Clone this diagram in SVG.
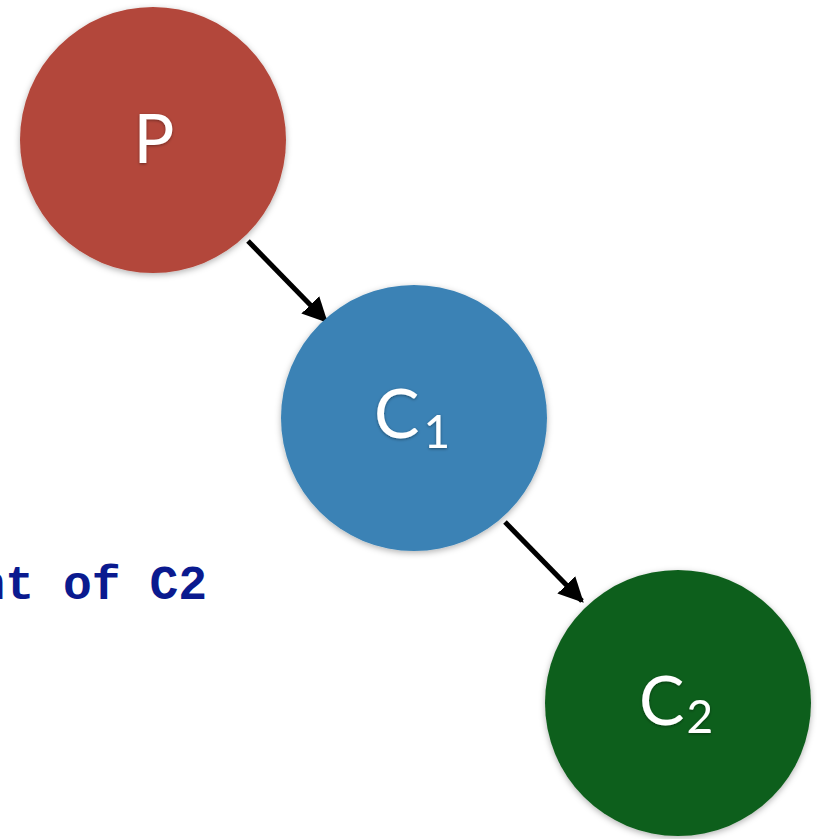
<svg xmlns="http://www.w3.org/2000/svg" width="817" height="839" viewBox="0 0 817 839">
<defs>
<style>
.lbl{font-family:Lato,"Open Sans","Liberation Sans",sans-serif;fill:#ffffff;font-size:68px;filter:url(#ts)}
.sub{font-size:46px}
.edge{stroke:#000;stroke-width:5;fill:none;marker-end:url(#ah)}
.note{font-family:"Liberation Mono","Courier New",monospace;font-weight:bold;font-size:48px;fill:#0a1a8f}
</style>
<marker id="ah" viewBox="0 0 10 10" refX="9" refY="5" markerWidth="5" markerHeight="5" orient="auto" markerUnits="strokeWidth">
<path d="M0,0 L10,5 L0,10 z" fill="#000"/>
</marker>
<filter id="sh" x="-20%" y="-20%" width="140%" height="140%">
<feDropShadow dx="0" dy="2" stdDeviation="3" flood-color="#000" flood-opacity="0.3"/>
</filter>
<filter id="ts" x="-20%" y="-20%" width="140%" height="140%">
<feDropShadow dx="0" dy="1" stdDeviation="1.5" flood-color="#000" flood-opacity="0.4"/>
</filter>
</defs>
<rect width="817" height="839" fill="#ffffff"/>
<g id="connectors">
<line class="edge" x1="248" y1="241" x2="326" y2="321"/>
<line class="edge" x1="505" y1="522" x2="582" y2="601"/>
</g>
<g id="node-P">
<circle cx="153" cy="140" r="133" fill="#b3463a" filter="url(#sh)"/>
<text class="lbl" x="154" y="163" text-anchor="middle">P</text>
</g>
<g id="node-C1">
<circle cx="414" cy="418" r="133" fill="#3a82b5" filter="url(#sh)"/>
<text class="lbl" x="374" y="438">C<tspan class="sub" dx="4" dy="10">1</tspan></text>
</g>
<g id="node-C2">
<circle cx="678" cy="703" r="133" fill="#0f5e1c" filter="url(#sh)"/>
<text class="lbl" x="639" y="725">C<tspan class="sub" dx="2" dy="8">2</tspan></text>
</g>
<text class="note" x="207" y="599" text-anchor="end">nt of C2</text>
</svg>
